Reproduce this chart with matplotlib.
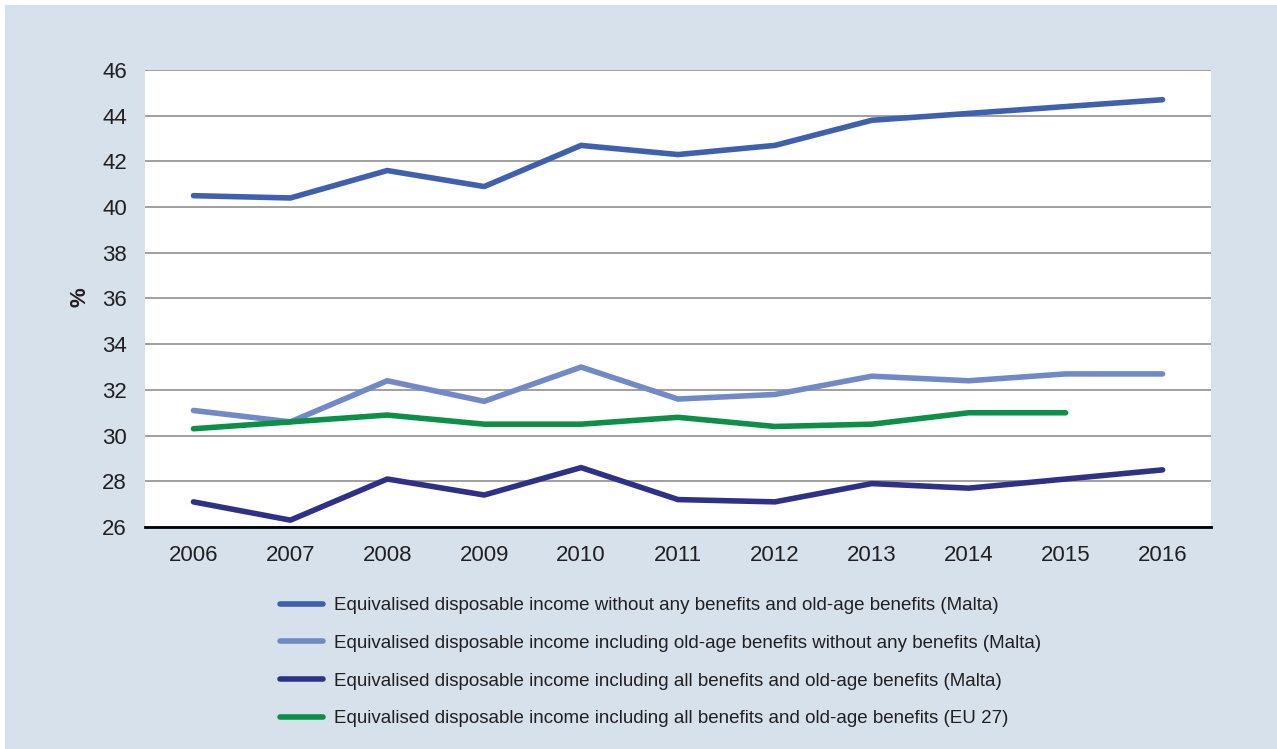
import matplotlib.pyplot as plt
from matplotlib.patches import Rectangle

plt.rcParams['font.family'] = ['Liberation Sans', 'DejaVu Sans']

years = ['2006', '2007', '2008', '2009', '2010', '2011', '2012', '2013', '2014', '2015', '2016']
no_benefits_mt = [40.5, 40.4, 41.6, 40.9, 42.7, 42.3, 42.7, 43.8, 44.1, 44.4, 44.7]
old_age_only_mt = [31.1, 30.6, 32.4, 31.5, 33.0, 31.6, 31.8, 32.6, 32.4, 32.7, 32.7]
all_benefits_mt = [27.1, 26.3, 28.1, 27.4, 28.6, 27.2, 27.1, 27.9, 27.7, 28.1, 28.5]
all_benefits_eu = [30.3, 30.6, 30.9, 30.5, 30.5, 30.8, 30.4, 30.5, 31.0, 31.0, None]

labels = [
    'Equivalised disposable income without any benefits and old-age benefits (Malta)',
    'Equivalised disposable income including old-age benefits without any benefits (Malta)',
    'Equivalised disposable income including all benefits and old-age benefits (Malta)',
    'Equivalised disposable income including all benefits and old-age benefits (EU 27)',
]
colors = ['#3F5FAF', '#7189C6', '#2E3188', '#0C8F46']

fig = plt.figure(figsize=(12.77, 7.49), dpi=100, facecolor='white')
# light blue panel behind everything
fig.patches.append(Rectangle((5 / 1277, 0), 1, 1 - 5 / 749, transform=fig.transFigure,
                             facecolor='#D6E1EC', edgecolor='none', zorder=-10))

ax = fig.add_axes([145 / 1277, 1 - 527 / 749, (1211 - 145) / 1277, (527 - 70) / 749])
ax.set_facecolor('white')

x = range(len(years))
series = [no_benefits_mt, old_age_only_mt, all_benefits_mt, all_benefits_eu]
for vals, lab, col in zip(series, labels, colors):
    xs = [i for i, v in zip(x, vals) if v is not None]
    ys = [v for v in vals if v is not None]
    ax.plot(xs, ys, color=col, lw=4, solid_capstyle='round', solid_joinstyle='round',
            label=lab, zorder=3)

ax.set_xlim(-0.5, len(years) - 0.5)
ax.set_ylim(26, 46)
ax.set_yticks(range(26, 47, 2))
ax.set_xticks(list(x))
ax.set_xticklabels(years)
ax.tick_params(axis='both', length=0, labelsize=16, colors='#231F20')
ax.tick_params(axis='x', pad=13)
ax.tick_params(axis='y', pad=13)
ax.yaxis.grid(True, color='#A0A0A0', lw=1.4)
ax.set_axisbelow(True)
for s in ['top', 'right', 'left']:
    ax.spines[s].set_visible(False)
ax.spines['bottom'].set_color('black')
ax.spines['bottom'].set_linewidth(2)
ax.spines['bottom'].set_zorder(4)

fig.text(80 / 1277, 1 - 297 / 749, '%', rotation=90, ha='center', va='center',
         fontsize=16, fontweight='bold', color='#231F20')

leg = fig.legend(loc='upper left', bbox_to_anchor=(280 / 1277, 1 - 597 / 749), frameon=False,
                 fontsize=13.5, handlelength=2.3, handletextpad=0.6, labelspacing=1.1,
                 borderpad=0, borderaxespad=0)
for t in leg.get_texts():
    t.set_color('#231F20')

fig.savefig('out.png', dpi=100, facecolor='white')
